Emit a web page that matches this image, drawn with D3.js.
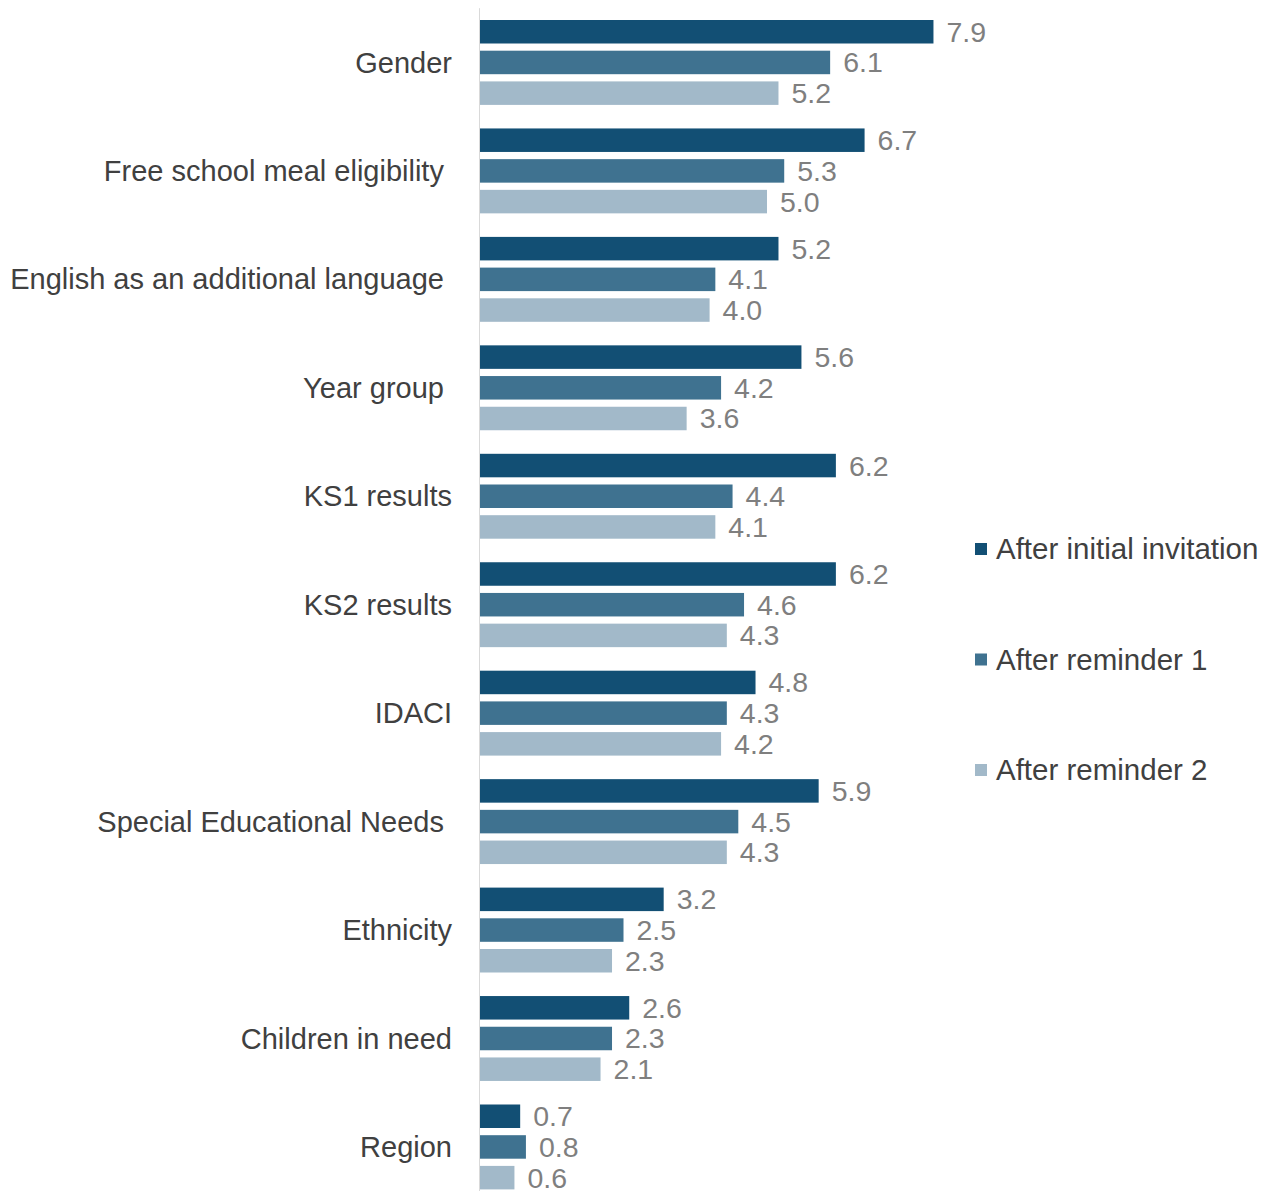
<!DOCTYPE html>
<html>
<head>
<meta charset="utf-8">
<script src="https://cdn.jsdelivr.net/npm/d3@7"></script>
<style>
  body { margin: 0; background: #fff; }
  text { font-family: "Liberation Sans", Arial, sans-serif; white-space: pre; }
</style>
</head>
<body>
<div id="plot_div"></div>
<script>
const width  = 1268;
const height = 1191;

// categories (trailing spaces as in the source labels)
const categories = ["Gender", "Free school meal eligibility ", "English as an additional language ",
                    "Year group ", "KS1 results", "KS2 results", "IDACI",
                    "Special Educational Needs ", "Ethnicity", "Children in need", "Region"];
const series = ["After initial invitation", "After reminder 1", "After reminder 2"];
const colors = ["#124f74", "#3f7290", "#a2b9c9"];

const initial   = [7.9, 6.7, 5.2, 5.6, 6.2, 6.2, 4.8, 5.9, 3.2, 2.6, 0.7];
const reminder1 = [6.1, 5.3, 4.1, 4.2, 4.4, 4.6, 4.3, 4.5, 2.5, 2.3, 0.8];
const reminder2 = [5.2, 5.0, 4.0, 3.6, 4.1, 4.3, 4.2, 4.3, 2.3, 2.1, 0.6];
const values = [initial, reminder1, reminder2];

const plot_left = 480;
const unit = 57.4;   // px per percentage point

const svg = d3.create("svg")
    .attr("width", width)
    .attr("height", height)
    .attr("viewBox", [0, 0, width, height]);

const x = d3.scaleLinear()
    .domain([0, 9])
    .range([plot_left, plot_left + 9 * unit]);

// group band
const y0 = d3.scaleBand()
    .domain(categories)
    .range([8.2, 8.2 + 11 * 108.45])
    .padding(0);

// bars within a group
const y1 = d3.scaleBand()
    .domain(series)
    .range([11.8, 11.8 + 84.9])
    .paddingInner(0.2345)
    .paddingOuter(0);

// vertical axis line
svg.append("line")
    .attr("x1", x(0) - 0.5).attr("x2", x(0) - 0.5)
    .attr("y1", y0.range()[0]).attr("y2", height)
    .attr("stroke", "#d9d9d9")
    .attr("stroke-width", 1);

const groups = svg.selectAll("g.group")
    .data(categories)
    .join("g")
    .attr("class", "group")
    .attr("transform", d => `translate(0,${y0(d)})`);

// category labels
groups.append("text")
    .attr("x", 452)
    .attr("y", y1(series[1]) + y1.bandwidth() / 2)
    .attr("dy", "0.35em")
    .attr("text-anchor", "end")
    .attr("fill", "#404040")
    .style("font-size", "29px")
    .text(d => d);

series.forEach((s, si) => {
    groups.append("rect")
        .attr("x", x(0))
        .attr("y", y1(s))
        .attr("width", (d, i) => x(values[si][i]) - x(0))
        .attr("height", y1.bandwidth())
        .attr("fill", colors[si]);

    groups.append("text")
        .attr("x", (d, i) => x(values[si][i]) + 13)
        .attr("y", y1(s) + y1.bandwidth() / 2)
        .attr("dy", "0.35em")
        .attr("fill", "#7f7f7f")
        .style("font-size", "28.5px")
        .text((d, i) => values[si][i].toFixed(1));
});

// legend
const legend = svg.selectAll("g.legend")
    .data(series)
    .join("g")
    .attr("class", "legend")
    .attr("transform", (d, i) => `translate(975,${549 + i * 110.5})`);

legend.append("rect")
    .attr("x", 0).attr("y", -6)
    .attr("width", 12).attr("height", 12)
    .attr("fill", (d, i) => colors[i]);

legend.append("text")
    .attr("x", 21)
    .attr("dy", "0.35em")
    .attr("fill", "#404040")
    .style("font-size", "29.5px")
    .text(d => d);

plot_div.append(svg.node());
</script>
</body>
</html>
